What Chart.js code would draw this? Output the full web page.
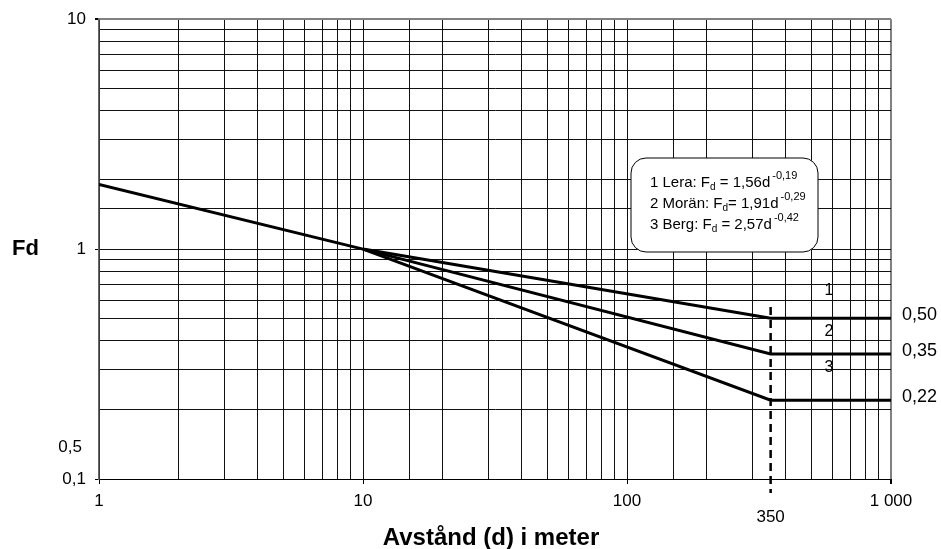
<!DOCTYPE html>
<html>
<head>
<meta charset="utf-8">
<script src="https://cdn.jsdelivr.net/npm/chart.js@4.4.1/dist/chart.umd.min.js"></script>
<style>
  html, body { margin: 0; padding: 0; background: #fff; }
  #wrap { width: 941px; height: 549px; }
</style>
</head>
<body>
<div id="wrap"><canvas id="fd"></canvas></div>
<script>
// ===============================
// DATA
// ===============================
const dShared = [1, 10];
const fdShared = [1.91, 1.0];

const dSeries = [10, 350, 1000];
const fdLera = [1.0, 0.50, 0.50];
const fdMoran = [1.0, 0.35, 0.35];
const fdBerg = [1.0, 0.22, 0.22];

const cutoffD = 350;
const cutoffFd = [0.56, 0.087];   // dashed line, top and bottom

const xTickValues = [1, 10, 100, 1000];
const xTickText = ["1", "10", "100", "1 000"];
const yTickValues = [0.1, 1, 10];
const yTickText = ["0,1", "1", "10"];

const endLabels = ["0,50", "0,35", "0,22"];
const endValues = [0.50, 0.35, 0.22];
const curveNumbers = ["1", "2", "3"];
const curveNumberValues = [0.657, 0.436, 0.304];

const legendLines = [
  ["1 Lera: F", "d", " = 1,56d", "-0,19"],
  ["2 Morän: F", "d", "= 1,91d", "-0,29"],
  ["3 Berg: F", "d", " = 2,57d", "-0,42"]
];

const FONT = '"Liberation Sans", Arial, sans-serif';
Chart.defaults.font.family = FONT;
Chart.defaults.color = "#000";

function pts(xs, ys) {
  return xs.map((x, i) => ({ x, y: ys[i] }));
}

function findLabel(values, texts, v) {
  for (let i = 0; i < values.length; i++) {
    if (Math.abs(values[i] - v) < values[i] * 1e-6) return texts[i];
  }
  return null;
}

const lineStyle = {
  borderColor: "#000",
  borderWidth: 3,
  pointRadius: 0,
  tension: 0,
  fill: false
};

// ===============================
// ANNOTATIONS (texts, legend box)
// ===============================
const annotations = {
  id: "annotations",
  afterDraw(chart) {
    const ctx = chart.ctx;
    const xs = chart.scales.x;
    const ys = chart.scales.y;
    ctx.save();
    ctx.fillStyle = "#000";

    // Y title
    ctx.font = "bold 22px " + FONT;
    ctx.textAlign = "left";
    ctx.textBaseline = "middle";
    ctx.fillText("Fd", 12, ys.getPixelForValue(1));

    // X title
    ctx.font = "bold 24px " + FONT;
    ctx.textAlign = "center";
    ctx.textBaseline = "alphabetic";
    ctx.fillText("Avstånd (d) i meter", 491, 545);

    // stray "0,5" label of the original
    ctx.font = "17px " + FONT;
    ctx.textAlign = "right";
    ctx.textBaseline = "middle";
    ctx.fillText("0,5", 82, 447);

    // 350 label under the dashed line
    ctx.textAlign = "center";
    ctx.fillText(String(cutoffD), xs.getPixelForValue(cutoffD), 517);

    // end labels on the right
    ctx.font = "18px " + FONT;
    ctx.textAlign = "left";
    ctx.textBaseline = "alphabetic";
    endLabels.forEach((t, i) => {
      ctx.fillText(t, chart.chartArea.right + 11, ys.getPixelForValue(endValues[i]) + 2);
    });

    // curve numbers
    ctx.font = "16px " + FONT;
    ctx.textAlign = "center";
    ctx.textBaseline = "middle";
    curveNumbers.forEach((t, i) => {
      ctx.fillText(t, xs.getPixelForValue(582), ys.getPixelForValue(curveNumberValues[i]));
    });

    // legend box
    const bx = 631, by = 158, bw = 187, bh = 94, r = 15;
    ctx.beginPath();
    ctx.roundRect(bx, by, bw, bh, r);
    ctx.fillStyle = "#fff";
    ctx.fill();
    ctx.lineWidth = 1;
    ctx.strokeStyle = "#000";
    ctx.stroke();

    ctx.fillStyle = "#000";
    ctx.textAlign = "left";
    ctx.textBaseline = "alphabetic";
    legendLines.forEach((parts, i) => {
      let x = 650;
      const y = 187 + i * 21;
      ctx.font = "15px " + FONT;
      ctx.fillText(parts[0], x, y);
      x += ctx.measureText(parts[0]).width;
      ctx.font = "10px " + FONT;
      ctx.fillText(parts[1], x, y + 3);
      x += ctx.measureText(parts[1]).width;
      ctx.font = "15px " + FONT;
      ctx.fillText(parts[2], x, y);
      x += ctx.measureText(parts[2]).width + 2;
      ctx.font = "11px " + FONT;
      ctx.fillText(parts[3], x, y - 8);
    });

    ctx.restore();
  }
};

new Chart(document.getElementById("fd"), {
  type: "line",
  data: {
    datasets: [
      { ...lineStyle, data: pts(dShared, fdShared) },
      { ...lineStyle, data: pts(dSeries, fdLera) },
      { ...lineStyle, data: pts(dSeries, fdMoran) },
      { ...lineStyle, data: pts(dSeries, fdBerg) },
      {
        ...lineStyle,
        borderWidth: 2.5,
        borderDash: [8, 5],
        clip: false,
        data: pts([cutoffD, cutoffD], cutoffFd)
      }
    ]
  },
  options: {
    responsive: true,
    maintainAspectRatio: false,
    animation: false,
    layout: { padding: { top: 19, right: 50, left: 0, bottom: 0 } },
    plugins: {
      legend: { display: false },
      tooltip: { enabled: false }
    },
    scales: {
      x: {
        type: "logarithmic",
        min: 1,
        max: 1000,
        afterFit: s => { s.height = 70; },
        border: { color: "#000", width: 1 },
        grid: {
          color: c => (c.tick && c.tick.value === 1000 ? "#808080" : "#111"),
          lineWidth: c => (c.tick && c.tick.value === 1000 ? 2 : 1),
          tickLength: 5,
          tickColor: c => (c.tick && findLabel(xTickValues, xTickText, c.tick.value) !== null ? "#000" : "rgba(0,0,0,0)")
        },
        ticks: {
          autoSkip: false,
          maxRotation: 0,
          padding: 7,
          font: { size: 17 },
          callback: v => findLabel(xTickValues, xTickText, v) || ""
        }
      },
      y: {
        type: "logarithmic",
        min: 0.1,
        max: 10,
        afterFit: s => { s.width = 99; },
        border: { color: "#666", width: 1.5 },
        grid: {
          color: c => (c.tick && c.tick.value === 10 ? "#808080" : "#111"),
          lineWidth: c => (c.tick && c.tick.value === 10 ? 2 : 1),
          tickLength: 4,
          tickColor: c => (c.tick && findLabel(yTickValues, yTickText, c.tick.value) !== null ? "#000" : "rgba(0,0,0,0)")
        },
        ticks: {
          autoSkip: false,
          padding: 9,
          font: { size: 17 },
          callback: v => findLabel(yTickValues, yTickText, v) || ""
        }
      }
    }
  },
  plugins: [annotations]
});
</script>
</body>
</html>
